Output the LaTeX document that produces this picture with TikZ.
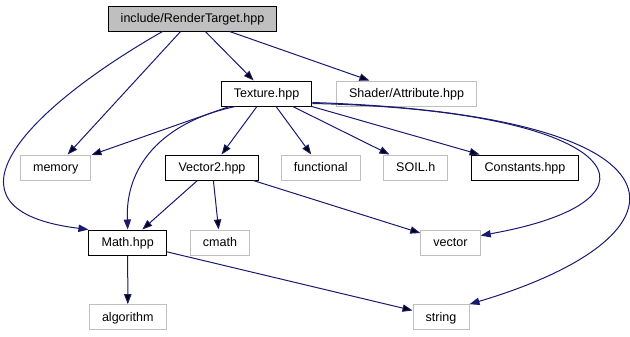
\documentclass[tikz,border=0pt]{standalone}
\usepackage{fontspec}
\setmainfont{Liberation Sans}
\usetikzlibrary{arrows.meta,calc}
\definecolor{edgeblue}{HTML}{191970}
\definecolor{extgray}{HTML}{BFBFBF}

\begin{document}
\begin{tikzpicture}[x=0.75pt,y=-0.75pt,
  font=\fontsize{9.4pt}{11pt}\selectfont,
  box/.style={rectangle,draw,line width=0.75pt,minimum height=18.75pt,inner xsep=9.5pt,inner ysep=0pt,text height=8pt,text depth=2pt},
  file/.style={box,draw=black},
  ext/.style={box,draw=extgray},
  root/.style={box,draw=black,fill=extgray},
  dep/.style={draw=edgeblue,line width=0.75pt,-{Triangle[length=7.5pt,width=5.5pt]}}]
\useasboundingbox (0,0) rectangle (630,336);
% files of the project
\node[root] (rt) at (192.5,18.5) {include/RenderTarget.hpp};
\node[file] (tex) at (266.5,93.5) {Texture.hpp};
\node[ext] (attr) at (406.5,93.5) {Shader/Attribute.hpp};
\node[ext] (mem) at (55.7,167.5) {memory};
\node[file] (vec2) at (212,167.5) {Vector2.hpp};
\node[ext] (func) at (320.8,167.5) {functional};
\node[ext] (soil) at (415.7,167.5) {SOIL.h};
\node[file] (const) at (525,167.5) {Constants.hpp};
\node[file] (math) at (127.7,242.5) {Math.hpp};
\node[ext] (cmath) at (220,242.5) {cmath};
\node[ext] (vec) at (450.5,242.5) {vector};
\node[ext] (algo) at (127.8,317.2) {algorithm};
\node[ext] (str) at (441,317.2) {string};
% includes of RenderTarget.hpp
\draw[dep] (rt) edge (tex);
\draw[dep] (rt) edge (attr);
\draw[dep] (rt) edge (mem);
\draw[dep] ($(rt.south)+(-30,0)$) .. controls (25,110) and (-70,210) .. (math.north west);
% includes of Texture.hpp
\draw[dep] (tex) edge (mem);
\draw[dep] ($(tex.south)+(-31,0)$) .. controls (170,120) and (125,160) .. (math.north);
\draw[dep] (tex) edge (vec2);
\draw[dep] (tex) edge (func);
\draw[dep] (tex) edge (soil);
\draw[dep] (tex) edge (const);
\draw[dep] ($(tex.east)+(0,10)$) .. controls (625,110) and (680,200) .. ($(vec.east)+(0,-7)$);
\draw[dep] ($(tex.east)+(0,9)$) .. controls (702,115) and (702,235) .. (str.north east);
% includes of Vector2.hpp and Math.hpp
\draw[dep] (vec2) edge (math);
\draw[dep] (vec2) edge (cmath);
\draw[dep] (vec2) edge (vec);
\draw[dep] (math) edge (algo);
\draw[dep] (math) edge (str);
\end{tikzpicture}
\end{document}
